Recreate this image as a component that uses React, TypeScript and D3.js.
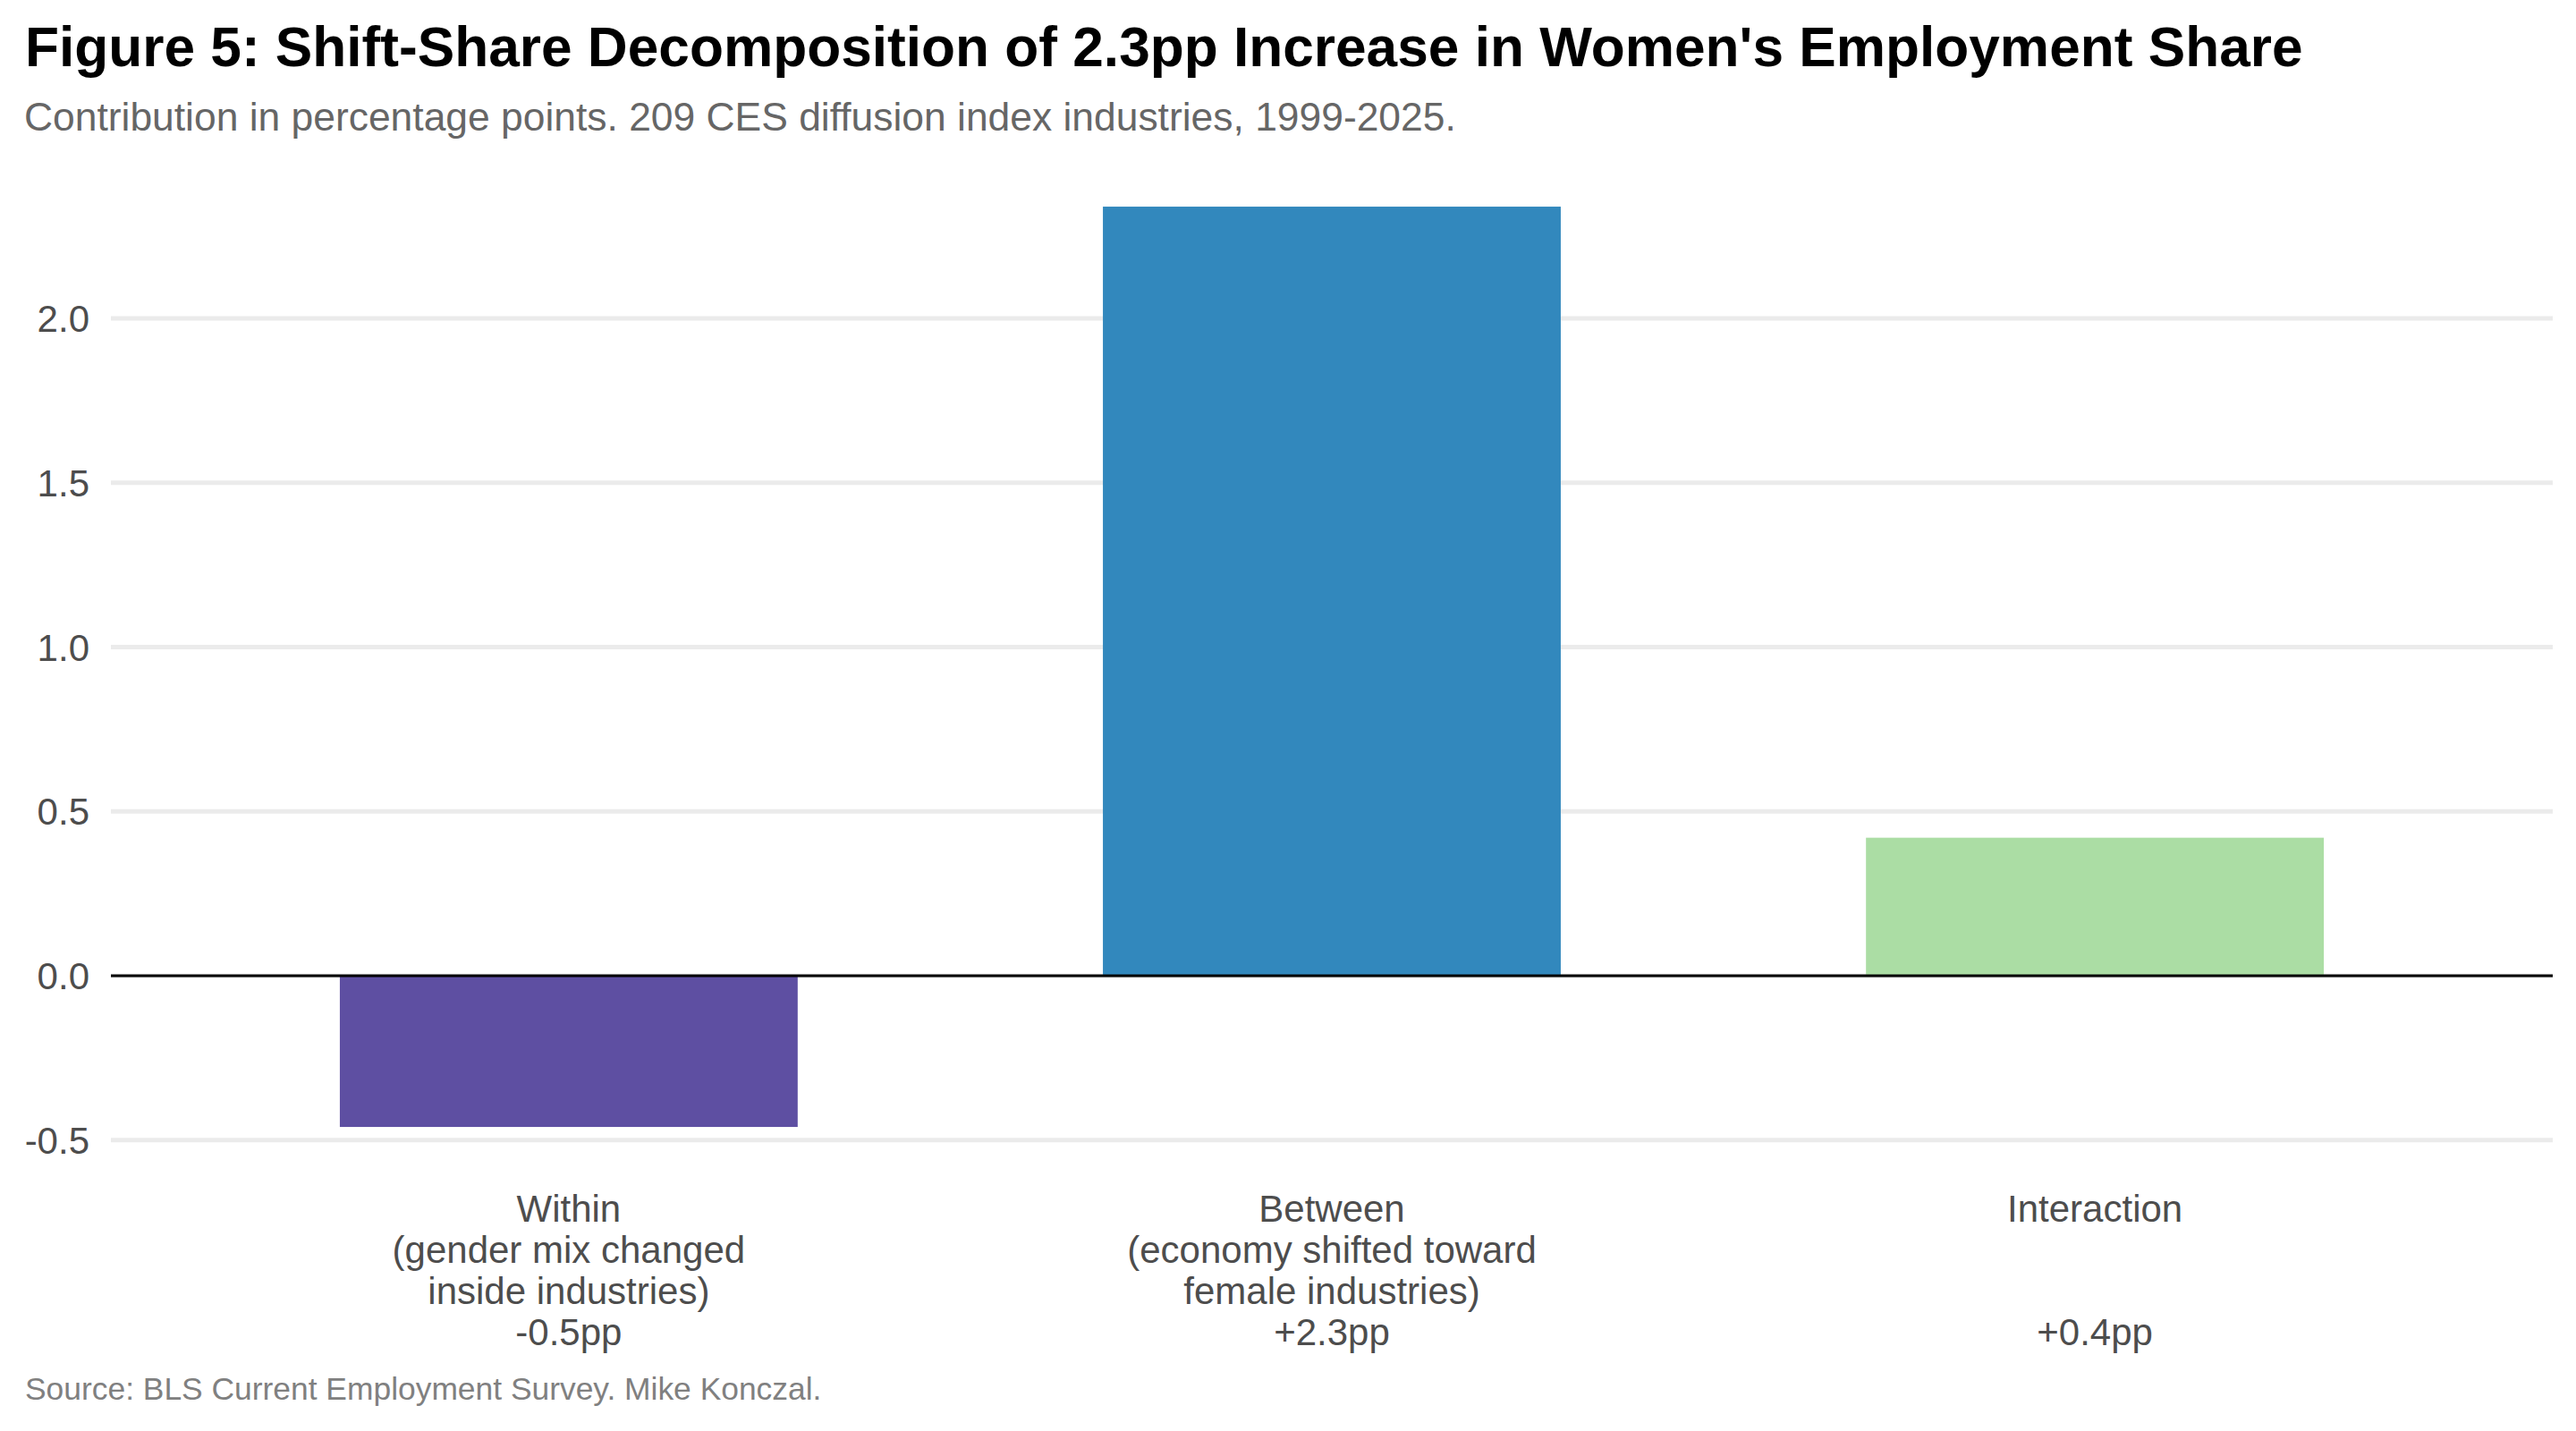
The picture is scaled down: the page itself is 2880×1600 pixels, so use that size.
import React from 'react';
import * as d3 from 'd3';

const categories = ['Within', 'Between', 'Interaction'];
const values = [-0.46, 2.34, 0.42];
const barColors = ['#5E4FA2', '#3288BD', '#ABDDA4'];
const labelLines = [
  ['Within', '(gender mix changed', 'inside industries)', '-0.5pp'],
  ['Between', '(economy shifted toward', 'female industries)', '+2.3pp'],
  ['Interaction', '', '', '+0.4pp'],
];
const yTicks = [-0.5, 0, 0.5, 1, 1.5, 2];

const title = "Figure 5: Shift-Share Decomposition of 2.3pp Increase in Women's Employment Share";
const subtitle = 'Contribution in percentage points. 209 CES diffusion index industries, 1999-2025.';
const caption = 'Source: BLS Current Employment Survey. Mike Konczal.';

const W = 2880;
const H = 1600;
const panelLeft = 124;
const panelRight = 2854;
const font = '"Liberation Sans", Arial, Helvetica, sans-serif';

export default function App() {
  const x = d3
    .scaleBand<string>()
    .domain(categories)
    .range([panelLeft, panelRight])
    .paddingInner(0.4)
    .paddingOuter(0.3);

  const y = d3.scaleLinear().domain([-0.5, 2.0]).range([1274.75, 356]);

  return (
    <svg
      width={W}
      height={H}
      style={{ position: 'absolute', left: 0, top: 0, background: '#fff' }}
      fontFamily={font}
    >
      <rect width={W} height={H} fill="#fff" />

      <text x={28} y={74} fontSize={62.2} fontWeight="bold" fill="#000">
        {title}
      </text>
      <text x={27} y={146} fontSize={44.4} fill="#666666">
        {subtitle}
      </text>

      {/* grid */}
      {yTicks.map((t) => (
        <line
          key={'g' + t}
          x1={panelLeft}
          x2={panelRight}
          y1={y(t)}
          y2={y(t)}
          stroke="#EBEBEB"
          strokeWidth={5}
        />
      ))}

      {/* y labels */}
      {yTicks.map((t) => (
        <text
          key={'t' + t}
          x={100}
          y={y(t) + 15}
          fontSize={42}
          textAnchor="end"
          fill="#4D4D4D"
        >
          {t.toFixed(1)}
        </text>
      ))}

      {/* bars */}
      {categories.map((c, i) => (
        <rect
          key={c}
          x={x(c)}
          width={x.bandwidth()}
          y={y(Math.max(0, values[i]))}
          height={Math.abs(y(values[i]) - y(0))}
          fill={barColors[i]}
        />
      ))}

      <line x1={panelLeft} x2={panelRight} y1={y(0)} y2={y(0)} stroke="#000" strokeWidth={3} />

      {/* x labels */}
      {categories.map((c, i) => (
        <text
          key={'l' + c}
          x={(x(c) ?? 0) + x.bandwidth() / 2}
          y={1366}
          fontSize={42}
          textAnchor="middle"
          fill="#4D4D4D"
        >
          {labelLines[i].map((line, j) => (
            <tspan key={j} x={(x(c) ?? 0) + x.bandwidth() / 2} y={1366 + j * 45.9}>
              {line}
            </tspan>
          ))}
        </text>
      ))}

      <text x={28} y={1565} fontSize={35.4} fill="#808080">
        {caption}
      </text>
    </svg>
  );
}
